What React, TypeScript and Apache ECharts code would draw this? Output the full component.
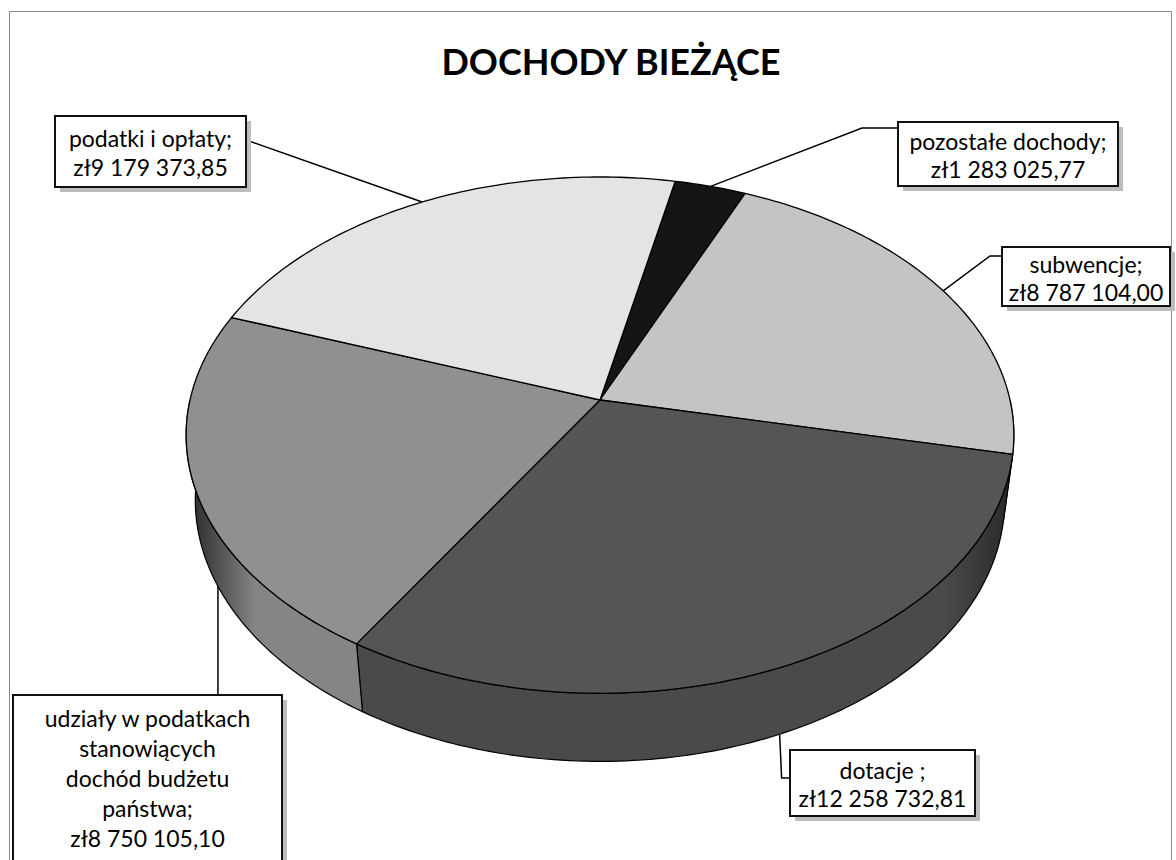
import React, { useEffect, useRef } from 'react';
import * as echarts from 'echarts';

// ---------- data ----------
const titleText = 'DOCHODY BIEŻĄCE';
const categories = [
  'pozostałe dochody',
  'subwencje',
  'dotacje ',
  'udziały w podatkach stanowiących dochód budżetu państwa',
  'podatki i opłaty',
];
const labelNames = [
  'pozostałe dochody;',
  'subwencje;',
  'dotacje ;',
  'udziały w podatkach\nstanowiących\ndochód budżetu\npaństwa;',
  'podatki i opłaty;',
];
const values = [1283025.77, 8787104.0, 12258732.81, 8750105.1, 9179373.85];
const currency = 'zł';

// ---------- styles ----------
const topColors = ['#151515', '#c4c4c4', '#555555', '#909090', '#e4e4e4'];
const wallColors = ['#101010', '#b0b0b0', '#4a4a4a', '#858585', '#d0d0d0'];
const FONT = 'Lato, "Open Sans", "Noto Sans", sans-serif';

// ---------- 3D geometry (layout) ----------
const CX = 600;
const CY = 400;
const RAD = 410;
const SIN_A = 0.618;
const COS_A = Math.sqrt(1 - SIN_A * SIN_A);
const DIST = 2368;
const THICK = 85;
const START_ANGLE = 12;

function project(thetaDeg: number, y: number): number[] {
  const t = (thetaDeg * Math.PI) / 180;
  const x = RAD * Math.sin(t);
  const z = RAD * Math.cos(t);
  const up = y * COS_A + z * SIN_A;
  const depth = z * COS_A - y * SIN_A;
  const s = DIST / (DIST + depth);
  return [CX + x * s, CY - up * s];
}

function sliceAngles(i: number): number[] {
  const total = values.reduce((a, b) => a + b, 0);
  let cum = 0;
  for (let k = 0; k < i; k++) cum += values[k];
  const a0 = START_ANGLE + (cum / total) * 360;
  const a1 = START_ANGLE + ((cum + values[i]) / total) * 360;
  return [a0, a1];
}

function arc(a0: number, a1: number, y: number): number[][] {
  const pts: number[][] = [];
  const n = Math.max(2, Math.ceil(Math.abs(a1 - a0) / 1));
  for (let k = 0; k <= n; k++) {
    pts.push(project(a0 + ((a1 - a0) * k) / n, y));
  }
  return pts;
}

function formatPL(v: number): string {
  const [ip, dp] = v.toFixed(2).split('.');
  const grouped = ip.replace(/\B(?=(\d{3})+(?!\d))/g, ' ');
  return grouped + ',' + dp;
}

// label boxes: [x, y, w, h], leader routing
const labelLayout = [
  { box: [898, 122, 220, 64], anchor: 'top', via: [[862, 128], [898, 128]], lh: 28, ty: 0 },
  { box: [1002, 247, 168, 59], anchor: 'top', via: [[990, 256], [1002, 256]], lh: 28, ty: 0 },
  { box: [790, 750, 185, 66], anchor: 'bottomDot', via: [], lh: 28, ty: 0 },
  { box: [13, 695, 269, 185], anchor: 'bottomUdz', via: [], lh: 30, ty: 8 },
  { box: [55, 116, 191, 71], anchor: 'top', via: [[246, 140]], lh: 29, ty: 0 },
];

export default function App() {
  const ref = useRef<HTMLDivElement>(null);

  useEffect(() => {
    document.body.style.margin = '0';
    if (!ref.current) return;
    const chart = echarts.init(ref.current, undefined, { renderer: 'svg' });

    const data = values.map((v, i) => ({ value: v, name: categories[i] }));

    const wallGrad = (c: string, dark: string) =>
      new echarts.graphic.LinearGradient(
        CX - RAD, 0, CX + RAD, 0,
        [
          { offset: 0, color: dark },
          { offset: 0.08, color: c },
          { offset: 0.92, color: c },
          { offset: 1, color: dark },
        ],
        true
      );

    const option: any = {
      animation: false,
      backgroundColor: '#ffffff',
      title: {
        text: titleText,
        left: 606,
        top: 38,
        textAlign: 'center',
        textStyle: { fontFamily: FONT, fontWeight: 'bold', fontSize: 36, color: '#000' },
      },
      graphic: [
        {
          type: 'rect',
          shape: { x: 9.5, y: 11.5, width: 1162, height: 870 },
          style: { fill: 'none', stroke: '#8a8a8a', lineWidth: 1 },
          silent: true,
        },
      ],
      series: [
        {
          type: 'custom',
          name: 'walls',
          coordinateSystem: 'none',
          silent: true,
          data,
          renderItem: (params: any) => {
            const i = params.dataIndex;
            const [a0, a1] = sliceAngles(i);
            const children: any[] = [];
            [0, 360].forEach((off) => {
              const lo = Math.max(a0, 90 + off);
              const hi = Math.min(a1, 270 + off);
              if (hi > lo) {
                const topArc = arc(lo, hi, 0);
                const botArc = arc(lo, hi, -THICK).reverse();
                children.push({
                  type: 'polygon',
                  shape: { points: topArc.concat(botArc) },
                  style: {
                    fill: wallGrad(wallColors[i], '#2a2a2a'),
                    stroke: '#000',
                    lineWidth: 1.2,
                    lineJoin: 'round',
                  },
                });
              }
            });
            return { type: 'group', children };
          },
        },
        {
          type: 'custom',
          name: 'tops',
          coordinateSystem: 'none',
          silent: true,
          data,
          renderItem: (params: any) => {
            const i = params.dataIndex;
            const [a0, a1] = sliceAngles(i);
            const pts = [[CX, CY]].concat(arc(a0, a1, 0));
            return {
              type: 'polygon',
              shape: { points: pts },
              style: { fill: topColors[i], stroke: '#000', lineWidth: 1.3, lineJoin: 'round' },
            };
          },
        },
        {
          type: 'custom',
          name: 'labels',
          coordinateSystem: 'none',
          silent: true,
          data,
          renderItem: (params: any, api: any) => {
            const i = params.dataIndex;
            const v = api.value(0);
            const [a0, a1] = sliceAngles(i);
            const mid = (a0 + a1) / 2;
            const L = labelLayout[i];
            const [bx, by, bw, bh] = L.box;
            let anchorPt: number[];
            let path: number[][];
            if (L.anchor === 'top') {
              anchorPt = project(mid, 0);
              path = [anchorPt].concat(L.via);
            } else if (L.anchor === 'bottomDot') {
              anchorPt = project(mid, -THICK);
              path = [anchorPt, [anchorPt[0] + 2, by + 28], [bx, by + 28]];
            } else {
              const targetX = bx + 205;
              anchorPt = project(mid, -THICK);
              for (let a = a0; a <= Math.min(a1, 270); a += 0.25) {
                const p = project(a, -THICK);
                if (Math.abs(p[0] - targetX) < Math.abs(anchorPt[0] - targetX)) anchorPt = p;
              }
              path = [anchorPt, [anchorPt[0], by]];
            }
            const text = labelNames[i] + '\n' + currency + formatPL(v);
            return {
              type: 'group',
              children: [
                {
                  type: 'polyline',
                  shape: { points: path },
                  style: { stroke: '#000', lineWidth: 1.5, fill: 'none' },
                },
                {
                  type: 'rect',
                  shape: { x: bx + 5, y: by + 5, width: bw, height: bh },
                  style: { fill: '#bdbdbd' },
                },
                {
                  type: 'rect',
                  shape: { x: bx, y: by, width: bw, height: bh },
                  style: { fill: '#fff', stroke: '#111', lineWidth: 2 },
                },
                {
                  type: 'text',
                  x: bx + bw / 2,
                  y: i === 3 ? by + L.ty : by + bh / 2 + 1,
                  style: {
                    text,
                    fontFamily: FONT,
                    fontSize: 23,
                    lineHeight: L.lh,
                    fill: '#000',
                    align: 'center',
                    verticalAlign: i === 3 ? 'top' : 'middle',
                    textAlign: 'center',
                    textVerticalAlign: i === 3 ? 'top' : 'middle',
                  },
                },
              ],
            };
          },
        },
      ],
    };

    chart.setOption(option);
    return () => {
      chart.dispose();
    };
  }, []);

  return <div ref={ref} style={{ width: 1176, height: 860 }} />;
}
